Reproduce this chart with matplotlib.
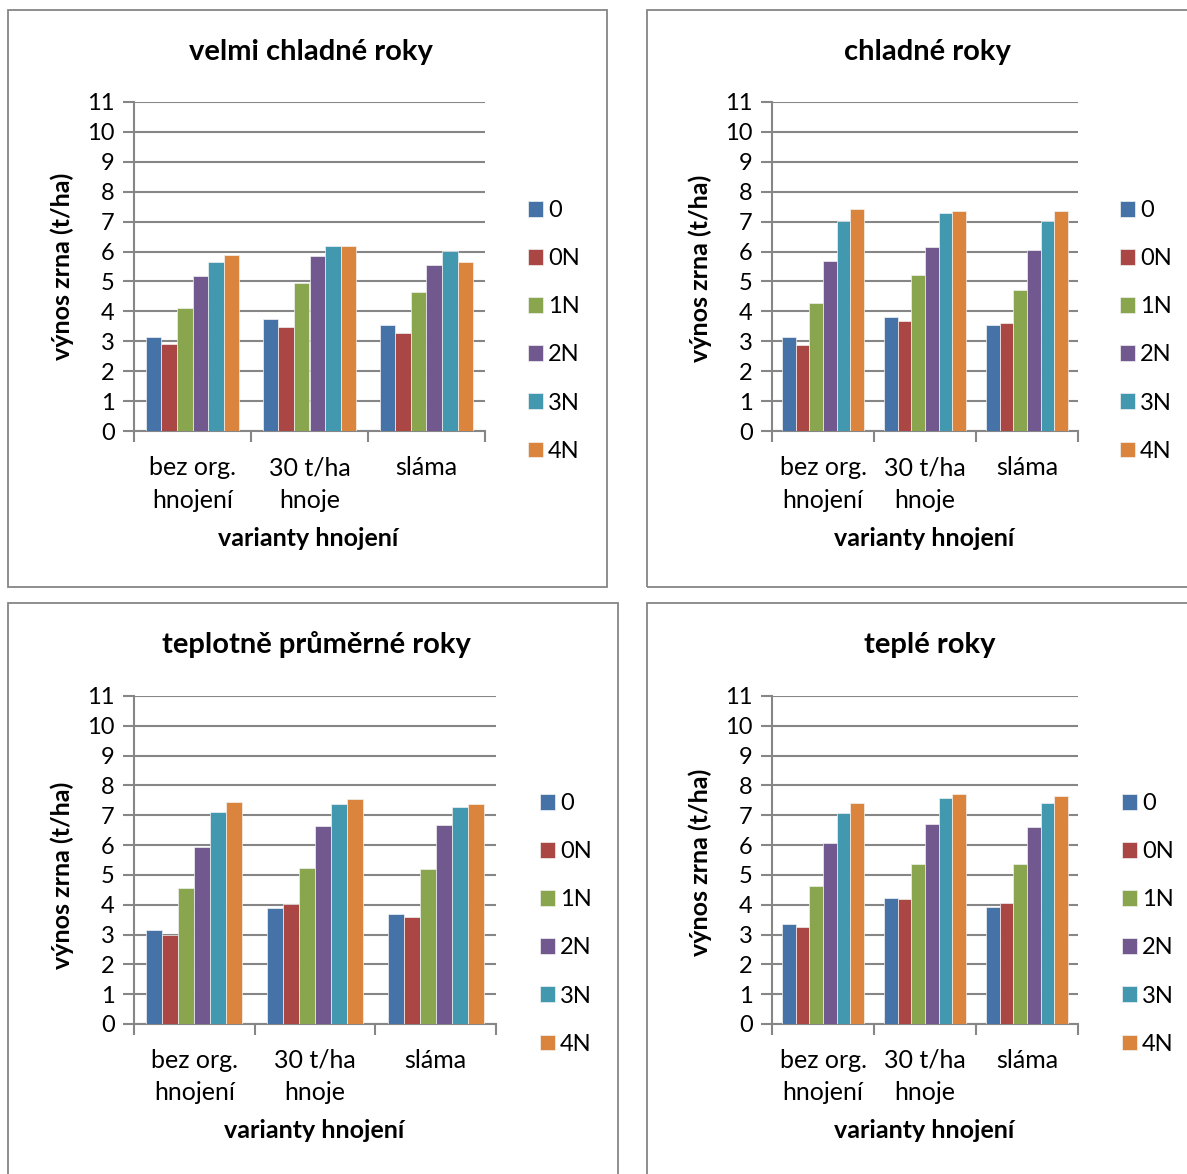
import numpy as np
import matplotlib
matplotlib.use('Agg')
import matplotlib.pyplot as plt
from matplotlib.patches import Rectangle

plt.rcParams['font.family'] = ['Lato', 'DejaVu Sans']

W, H = 1187, 1174

kategorie = ['bez org.\nhnojení', '30 t/ha\nhnoje', 'sláma']
varianty = ['0', '0N', '1N', '2N', '3N', '4N']
barvy = ['#4572A7', '#AA4643', '#89A54E', '#71588F', '#4198AF', '#DB843D']

# výnos zrna (t/ha), řádek = varianta N, sloupec = kategorie
velmi_chladne = [[3.15, 3.73, 3.53],
                 [2.92, 3.48, 3.28],
                 [4.10, 4.94, 4.64],
                 [5.19, 5.84, 5.54],
                 [5.65, 6.19, 6.01],
                 [5.87, 6.19, 5.64]]
chladne = [[3.15, 3.80, 3.56],
           [2.88, 3.67, 3.60],
           [4.27, 5.21, 4.72],
           [5.69, 6.15, 6.06],
           [7.01, 7.29, 7.01],
           [7.42, 7.35, 7.35]]
prumerne = [[3.14, 3.89, 3.70],
            [2.97, 4.03, 3.58],
            [4.57, 5.24, 5.19],
            [5.95, 6.63, 6.67],
            [7.10, 7.39, 7.28],
            [7.44, 7.55, 7.38]]
teple = [[3.37, 4.22, 3.91],
         [3.26, 4.18, 4.07],
         [4.63, 5.35, 5.38],
         [6.06, 6.72, 6.59],
         [7.08, 7.59, 7.42],
         [7.41, 7.70, 7.64]]

# (data, nadpis, osa [l, t, r, b], rámeček [l, t, r, b], x nadpisu, y nadpisu, x popisku y, y popisku y, x legendy, y legendy)
panely = [
    (velmi_chladne, 'velmi chladné roky', (134, 102, 485, 431), (8, 10, 607, 587), 311, 52, 62, 266, 528, 200),
    (chladne, 'chladné roky', (772, 102, 1078, 431), (647, 10, 1195, 587), 927, 52, 700, 268, 1120, 200),
    (prumerne, 'teplotně průměrné roky', (134, 696, 496, 1024), (8, 603, 618, 1185), 316, 645, 62, 875, 540, 793),
    (teple, 'teplé roky', (772, 696, 1078, 1024), (647, 603, 1195, 1185), 930, 645, 700, 862, 1122, 793),
]

fig = plt.figure(figsize=(W / 100, H / 100), dpi=100)
fig.patch.set_facecolor('white')

def fx(px):
    return px / W

def fy(py):
    return 1 - py / H

seda = '#868686'

for data, nadpis, osa, ramecek, tx, ty, ylx, yly, lx, ly in panely:
    l, t, r, b = ramecek
    fig.patches.append(Rectangle((fx(l), fy(b)), fx(r - l), (b - t) / H,
                                 transform=fig.transFigure, fill=False,
                                 edgecolor=seda, linewidth=1.3))
    al, at, ar, ab = osa
    ax = fig.add_axes([fx(al), fy(ab), fx(ar - al), (ab - at) / H])
    x = np.arange(len(kategorie))
    sirka = 0.133
    for i, (var, barva) in enumerate(zip(varianty, barvy)):
        ax.bar(x + (i - 2.5) * sirka, data[i], width=sirka, color=barva,
               edgecolor='#f2f2f2', linewidth=0.5, label=var, zorder=3)
    ax.set_xlim(-0.5, 2.5)
    ax.set_ylim(0, 11)
    ax.set_yticks(range(0, 12))
    ax.yaxis.grid(True, color=seda, linewidth=1.5, zorder=0)
    ax.set_axisbelow(True)
    for s in ['top', 'right']:
        ax.spines[s].set_visible(False)
    for s in ['left', 'bottom']:
        ax.spines[s].set_color(seda)
        ax.spines[s].set_linewidth(1.5)
    ax.tick_params(axis='y', colors=seda, labelcolor='black', labelsize=17,
                   length=8, width=1.5, pad=6)
    ax.set_xticks([-0.5, 0.5, 1.5, 2.5])
    ax.set_xticklabels([])
    ax.tick_params(axis='x', colors=seda, length=8, width=1.5)
    ax.set_xticks(x, minor=True)
    ax.set_xticklabels(kategorie, minor=True, fontsize=18, linespacing=1.5)
    ax.tick_params(axis='x', which='minor', length=0, pad=18, labelcolor='black')

    fig.text(fx(tx), fy(ty), nadpis, ha='center', va='center',
             fontsize=21, fontweight='bold')
    fig.text(fx(ylx), fy(yly), 'výnos zrna (t/ha)', ha='center', va='center',
             rotation=90, fontsize=18, fontweight='bold')
    fig.text(fx((al + ar) / 2 - 1), fy(ab + 107), 'varianty hnojení',
             ha='center', va='center', fontsize=18, fontweight='bold')

    ax.legend(loc='upper left', bbox_to_anchor=(fx(lx), fy(ly)),
              bbox_transform=fig.transFigure, frameon=False, fontsize=17,
              handlelength=0.65, handleheight=0.65, handletextpad=0.2,
              labelspacing=1.15, borderaxespad=0, borderpad=0)

fig.savefig('out.png', dpi=100)
